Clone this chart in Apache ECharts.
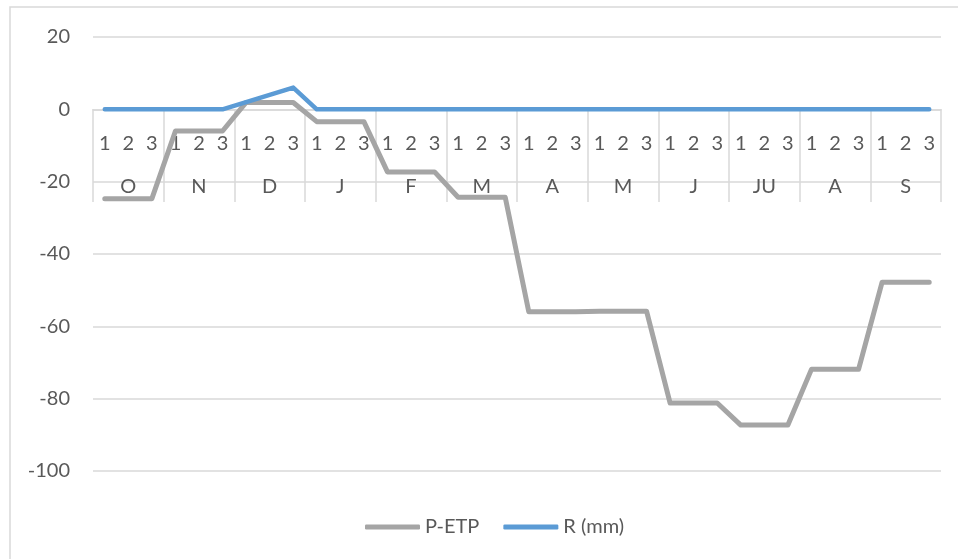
<!DOCTYPE html>
<html>
<head>
<meta charset="utf-8">
<script src="https://cdn.jsdelivr.net/npm/echarts@6/dist/echarts.min.js"></script>
<style>
  html, body { margin: 0; padding: 0; background: #fff; }
  #chart { width: 958px; height: 559px; }
</style>
</head>
<body>
<div id="chart"></div>
<script>
// Dekads (1st, 2nd, 3rd ten days) of each month, October to September
const months = ['O', 'N', 'D', 'J', 'F', 'M', 'A', 'M', 'J', 'JU', 'A', 'S'];
const dekadLabels = [];
months.forEach(() => dekadLabels.push('1', '2', '3'));

// P-ETP per dekad (mm)
const pEtp = [
  -24.7, -24.7, -24.7,
  -6.0, -6.0, -6.0,
  1.9, 1.9, 1.9,
  -3.4, -3.4, -3.4,
  -17.3, -17.3, -17.3,
  -24.3, -24.3, -24.3,
  -56.0, -56.0, -56.0,
  -55.8, -55.8, -55.8,
  -81.2, -81.2, -81.2,
  -87.3, -87.3, -87.3,
  -71.9, -71.9, -71.9,
  -47.8, -47.8, -47.8
];

// Soil water reserve R per dekad (mm)
const reserve = [
  0, 0, 0,
  0, 0, 0,
  2, 4, 6,
  0, 0, 0,
  0, 0, 0,
  0, 0, 0,
  0, 0, 0,
  0, 0, 0,
  0, 0, 0,
  0, 0, 0,
  0, 0, 0,
  0, 0, 0
];

const yTicks = { min: -100, max: 20, step: 20 };

const FONT = 'Lato, "Open Sans", sans-serif';
const TEXT = '#595959';
const RULE = '#d9d9d9';

// plot box in pixels; the category axes sit inside it, at y = 0 and just below
const GRID = { left: 93, right: 17, top: 37, bottom: 88 };
const PLOT_H = 559 - GRID.top - GRID.bottom;
const zeroFromBottom = PLOT_H * (0 - yTicks.min) / (yTicks.max - yTicks.min);
const monthRowFromBottom = PLOT_H * (-20 - 5.6 - yTicks.min) / (yTicks.max - yTicks.min);

const chart = echarts.init(document.getElementById('chart'), null, { renderer: 'canvas' });

chart.setOption({
  animation: false,
  backgroundColor: '#ffffff',
  textStyle: { fontFamily: FONT },
  graphic: [{
    type: 'rect',
    silent: true,
    shape: { x: 10, y: 7, width: 1000, height: 600 },
    style: { fill: 'none', stroke: RULE, lineWidth: 1.5 }
  }],
  grid: Object.assign({ containLabel: false }, GRID),
  legend: {
    left: 360,
    top: 512,
    itemWidth: 55,
    itemHeight: 5,
    itemGap: 24,
    icon: 'roundRect',
    textStyle: { color: TEXT, fontSize: 20, fontFamily: FONT },
    data: ['P-ETP', 'R (mm)']
  },
  xAxis: [
    {
      type: 'category',
      data: dekadLabels,
      position: 'bottom',
      offset: -zeroFromBottom,
      boundaryGap: true,
      axisLine: { onZero: false, lineStyle: { color: RULE, width: 1.5 } },
      axisTick: { show: false },
      axisLabel: { interval: 0, color: TEXT, fontSize: 20, fontFamily: FONT, margin: 24 },
      splitLine: { show: false }
    },
    {
      type: 'category',
      data: months,
      position: 'bottom',
      offset: -monthRowFromBottom,
      boundaryGap: true,
      axisLine: { show: false, onZero: false },
      axisTick: { show: true, inside: true, length: 93, lineStyle: { color: RULE, width: 1.5 } },
      axisLabel: { interval: 0, color: TEXT, fontSize: 20, fontFamily: FONT, margin: -25 },
      splitLine: { show: false }
    }
  ],
  yAxis: {
    type: 'value',
    min: yTicks.min,
    max: yTicks.max,
    interval: yTicks.step,
    axisLine: { show: false },
    axisTick: { show: false },
    axisLabel: { color: TEXT, fontSize: 20, fontFamily: FONT, margin: 23 },
    splitLine: { lineStyle: { color: RULE, width: 1.5 } }
  },
  series: [
    {
      name: 'P-ETP',
      type: 'line',
      xAxisIndex: 0,
      data: pEtp,
      showSymbol: false,
      color: '#a5a5a5',
      lineStyle: { color: '#a5a5a5', width: 5, cap: 'round', join: 'round' }
    },
    {
      name: 'R (mm)',
      type: 'line',
      xAxisIndex: 0,
      data: reserve,
      showSymbol: false,
      color: '#5b9bd5',
      lineStyle: { color: '#5b9bd5', width: 4.5, cap: 'round', join: 'round' }
    }
  ]
});
</script>
</body>
</html>
